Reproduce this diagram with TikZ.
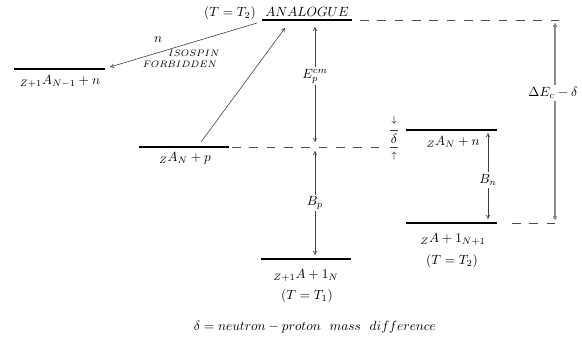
\documentclass[tikz,border=0pt]{standalone}
\usetikzlibrary{arrows.meta}
\begin{document}
\begin{tikzpicture}[x=0.75pt,y=-0.75pt,
 lvl/.style={line width=1.6pt},
 dsh/.style={black!70,line width=0.5pt,dash pattern=on 6.5pt off 6.5pt},
 arr/.style={black!75,line width=0.45pt,-{To[length=3pt,width=3.2pt]}},
 darr/.style={black!75,line width=0.45pt,{To[length=3pt,width=3.2pt]}-{To[length=3pt,width=3.2pt]}},
 garr/.style={black!45,line width=0.8pt,{To[length=3pt,width=3.2pt]}-{To[length=3pt,width=3.2pt]}},
 tick/.style={black!75,line width=0.5pt},
 lab/.style={inner sep=1pt},
 wlab/.style={inner sep=1.5pt,fill=white},
 small/.style={inner sep=0.5pt,font=\fontsize{7.5}{8.5}\selectfont}]
\useasboundingbox (0,0) rectangle (582,351);

% levels
\coordinate (A1) at (262,20); \coordinate (A2) at (352,20);
\coordinate (L1) at (14,69);  \coordinate (L2) at (105,69);
\coordinate (P1) at (139,147); \coordinate (P2) at (229,147);
\coordinate (N1) at (406,130); \coordinate (N2) at (497,130);
\coordinate (G1) at (261,259); \coordinate (G2) at (351,259);
\coordinate (H1) at (406,223); \coordinate (H2) at (497,223);
\foreach \a/\b in {A1/A2,L1/L2,P1/P2,N1/N2,G1/G2,H1/H2} \draw[lvl] (\a) -- (\b);

% dashed extensions
\coordinate (dA1) at (360,20);  \coordinate (dA2) at (560,20);
\coordinate (dP1) at (232,147); \coordinate (dP2) at (381,147);
\coordinate (dH1) at (512,223); \coordinate (dH2) at (560,223);
\draw[dsh] (dA1) -- (dA2);
\draw[dsh] (dP1) -- (dP2);
\draw[dsh] (dH1) -- (dH2);

% level labels
\node[lab,anchor=base] (analogue) at (307,16.5) {$ANALOGUE$};
\node[lab,anchor=base] (tana) at (230,16.5) {$(T=T_2)$};
\node[lab] (lleft) at (60,81) {${}_{Z+1}A_{N-1}+n$};
\node[lab] (lp) at (185,158) {${}_{Z}A_{N}+p$};
\node[lab] (ln) at (453,142) {${}_{Z}A_{N}+n$};
\node[lab] (lh) at (453,239) {${}_{Z}A+1_{N+1}$};
\node[lab] (th) at (452,261) {$(T=T_2)$};
\node[lab] (lg) at (306,275) {${}_{Z+1}A+1_{N}$};
\node[lab] (tg) at (307,296) {$(T=T_1)$};

% isospin forbidden decay
\coordinate (isoS) at (257,23); \coordinate (isoE) at (110,67);
\draw[arr] (isoS) -- (isoE);
\node[lab] (nlab) at (158,40) {$n$};
\node[small] (iso1) at (194,53) {$ISOSPIN$};
\node[small] (iso2) at (180,64) {$FORBIDDEN$};

% proton capture
\coordinate (pS) at (201,142); \coordinate (pE) at (285,28);
\draw[arr] (pS) -- (pE);

% E_p^cm
\coordinate (e1) at (315,27); \coordinate (e2) at (315,142);
\draw[darr] (e1) -- (e2);
\node[wlab] (elab) at (315,76) {$E_p^{cm}$};

% B_p
\coordinate (b1) at (315,151); \coordinate (b2) at (315,255);
\draw[darr] (b1) -- (b2);
\node[wlab] (bplab) at (315,203) {$B_p$};

% B_n
\coordinate (n1) at (488,133); \coordinate (n2) at (488,219);
\draw[darr] (n1) -- (n2);
\node[wlab] (bnlab) at (488,180) {$B_n$};

% Delta E_c - delta
\coordinate (d1) at (555,23); \coordinate (d2) at (555,220);
\draw[garr] (d1) -- (d2);
\node[wlab] (delab) at (553,93) {$\Delta E_c-\delta$};

% delta gap
\coordinate (t1) at (390,130); \coordinate (t2) at (398,130);
\coordinate (t3) at (390,147); \coordinate (t4) at (398,147);
\draw[tick] (t1) -- (t2);
\draw[tick] (t3) -- (t4);
\node[lab,font=\scriptsize] (dn) at (394,120) {$\downarrow$};
\node[lab] (dl) at (394,138.5) {$\delta$};
\node[lab,font=\scriptsize] (up) at (394,156) {$\uparrow$};

% footnote
\node[lab] (foot) at (315,327) {$\delta = neutron-proton\ \ mass\ \ difference$};
\end{tikzpicture}
\end{document}
